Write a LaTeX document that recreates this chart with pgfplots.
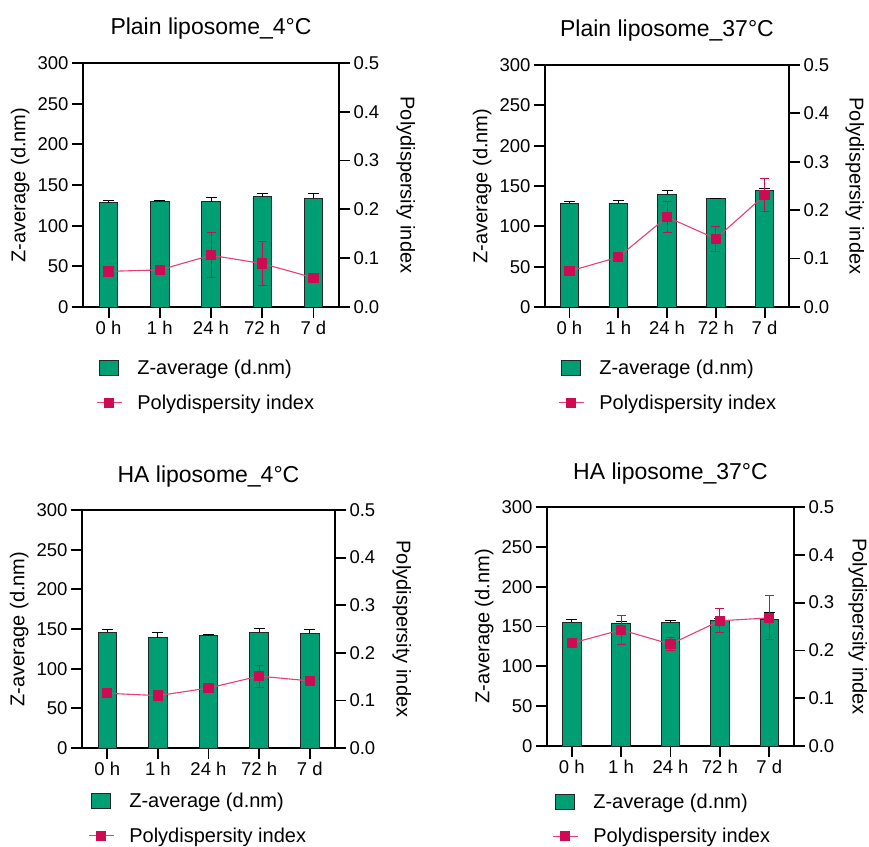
\documentclass[border=0pt]{standalone}
\usepackage{pgfplots}
\pgfplotsset{compat=1.18}
\usepackage{fontspec}
\setmainfont{Liberation Sans}

\definecolor{zgreen}{RGB}{0,158,115}
\definecolor{pdiline}{RGB}{232,62,120}
\definecolor{pdimark}{RGB}{206,10,82}

\newcommand{\tickfont}{\fontsize{18.5}{20}\selectfont}
\newcommand{\labfont}{\fontsize{20}{22}\selectfont}
\newcommand{\titfont}{\fontsize{23}{25}\selectfont}

\pgfplotsset{
  panel/.style={scale only axis, anchor=south west,
    xmin=-0.5, xmax=4.5, ymin=0,
    axis line style={line width=1.8pt},
    major tick style={line width=1.8pt, black},
    major tick length=11pt, tick align=outside,
    tick label style={font=\tickfont},
    /pgf/number format/assume math mode=true},
  zax/.style={panel, ymax=300, ytick={0,50,...,300},
    xtick={0,...,4}, xticklabels={0 h,1 h,24 h,72 h,7 d},
    xtick pos=bottom, ytick pos=left,
    ylabel={Z-average (d.nm)},
    ylabel style={font=\labfont, at={([xshift=-50pt]axis description cs:0,0.5)}, anchor=south},
    title style={font=\titfont, at={([yshift=28pt]axis description cs:0.5,1)}, anchor=base, yshift=-6pt}},
  pax/.style={panel, ymax=0.5, ytick={0,0.1,...,0.5},
    axis y line*=right, axis x line=none,
    yticklabel style={/pgf/number format/.cd, fixed, fixed zerofill, precision=1},
    scaled y ticks=false,
    ylabel={Polydispersity index},
    ylabel style={font=\labfont, rotate=180, at={([xshift=#1]axis description cs:1,0.5)}, anchor=south},
    legend cell align=left,
    legend style={anchor=north west, draw=none, fill=none, inner sep=0pt,
      font=\labfont, row sep=18.5pt, column sep=15pt, nodes={inner sep=0pt}}},
  pax/.default=54pt,
  zbar/.style={ybar, bar width=18.5pt, bar shift=0pt, fill=zgreen, draw=black!85, line width=0.9pt,
    error bars/.cd, y dir=plus, y explicit,
    error bar style={black, line width=1pt},
    error mark options={rotate=90, black, line width=1pt, mark size=5.5pt}},
  pline/.style={pdiline, line width=1.1pt, mark=square*, mark size=4.6pt,
    mark options={fill=pdimark, draw=pdimark, solid},
    legend image code/.code={\draw[mark repeat=2, mark phase=2, ##1] plot coordinates {(0pt,0pt) (12.5pt,0pt) (25pt,0pt)};},
    error bars/.cd, y dir=both, y explicit,
    error bar style={pdimark, line width=1pt},
    error mark options={rotate=90, pdimark, line width=1pt, mark size=4.5pt}},
  zleg/.style={legend image code/.code={\draw[fill=zgreen, draw=black!85, line width=0.9pt] (3pt,-7.5pt) rectangle (22pt,7.5pt);}}
}

\begin{document}
\begin{tikzpicture}
\path[use as bounding box] (0,0) rectangle (869pt,846pt);

% ---- Plain liposome 4 C
\begin{axis}[zax, at={(83pt,539pt)}, width=256pt, height=244pt, title={Plain liposome\_4°C}]
\addplot[zbar] table[x=x, y=y, y error=e] {
x y e
0 128.0 3
1 129.5 1
2 129.5 5
3 135.5 4
4 134.0 6
};
\end{axis}
\begin{axis}[pax, at={(83pt,539pt)}, width=256pt, height=244pt,
  legend style={at={([xshift=13pt,yshift=-53pt]axis description cs:0,0)}}]
\addlegendimage{zleg}
\addlegendentry{Z-average (d.nm)}
\addplot[pline] table[x=x, y=y, y error=e] {
x y e
0 0.073 0.003
1 0.076 0.003
2 0.106 0.046
3 0.089 0.045
4 0.060 0.003
};
\addlegendentry{Polydispersity index}
\end{axis}

% ---- Plain liposome 37 C
\begin{axis}[zax, at={(545pt,539pt)}, width=244pt, height=242pt, title={Plain liposome\_37°C}]
\addplot[zbar] table[x=x, y=y, y error=e] {
x y e
0 128.3 3
1 128.7 3.3
2 139.8 4
3 134.0 1
4 144.4 3
};
\end{axis}
\begin{axis}[pax=53pt, at={(545pt,539pt)}, width=244pt, height=242pt,
  legend style={at={([xshift=13pt,yshift=-53pt]axis description cs:0,0)}}]
\addlegendimage{zleg}
\addlegendentry{Z-average (d.nm)}
\addplot[pline] table[x=x, y=y, y error=e] {
x y e
0 0.074 0.004
1 0.103 0.004
2 0.186 0.033
3 0.141 0.026
4 0.231 0.034
};
\addlegendentry{Polydispersity index}
\end{axis}

% ---- HA liposome 4 C
\begin{axis}[zax, at={(82pt,98pt)}, width=253pt, height=238pt, title={HA liposome\_4°C}]
\addplot[zbar] table[x=x, y=y, y error=e] {
x y e
0 145.8 3.5
1 139.0 6
2 142.0 1
3 145.8 5
4 144.5 5
};
\end{axis}
\begin{axis}[pax, at={(82pt,98pt)}, width=253pt, height=238pt,
  legend style={at={([xshift=6pt,yshift=-45pt]axis description cs:0,0)}}]
\addlegendimage{zleg}
\addlegendentry{Z-average (d.nm)}
\addplot[pline] table[x=x, y=y, y error=e] {
x y e
0 0.115 0.004
1 0.110 0.004
2 0.126 0.004
3 0.151 0.023
4 0.141 0.004
};
\addlegendentry{Polydispersity index}
\end{axis}

% ---- HA liposome 37 C
\begin{axis}[zax, at={(547pt,100pt)}, width=247pt, height=239pt, title={HA liposome\_37°C}]
\addplot[zbar] table[x=x, y=y, y error=e] {
x y e
0 155.6 3.4
1 154.4 2.5
2 155.2 2.5
3 157.3 3
4 158.6 8.5
};
\end{axis}
\begin{axis}[pax=51pt, at={(547pt,100pt)}, width=247pt, height=239pt,
  legend style={at={([xshift=5pt,yshift=-47.5pt]axis description cs:0,0)}}]
\addlegendimage{zleg}
\addlegendentry{Z-average (d.nm)}
\addplot[pline] table[x=x, y=y, y error=e] {
x y e
0 0.215 0.004
1 0.243 0.030
2 0.213 0.013
3 0.262 0.025
4 0.268 0.046
};
\addlegendentry{Polydispersity index}
\end{axis}
\end{tikzpicture}
\end{document}
